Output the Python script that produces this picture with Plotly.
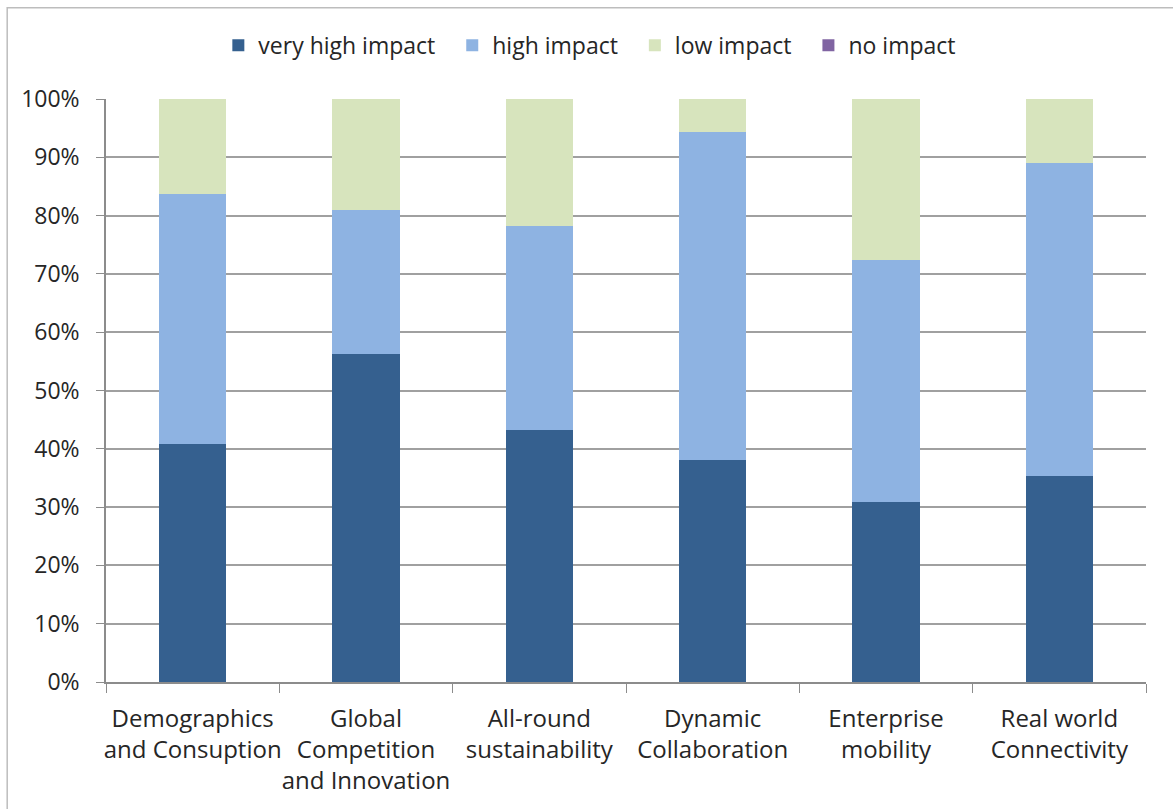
import plotly.graph_objects as go

categories = ["Demographics<br>and Consuption", "Global<br>Competition<br>and Innovation",
              "All-round<br>sustainability", "Dynamic<br>Collaboration",
              "Enterprise<br>mobility", "Real world<br>Connectivity"]
very_high = [40.8, 56.2, 43.2, 38.0, 30.8, 35.3]
high = [42.9, 24.8, 35.0, 56.3, 41.5, 53.8]
low = [16.3, 19.0, 21.8, 5.7, 27.7, 10.9]
no_impact = [0, 0, 0, 0, 0, 0]
y_ticks = list(range(0, 101, 10))
y_tick_labels = [f"{v}%" for v in y_ticks]

series = [("very high impact", very_high, "#35608F"),
          ("high impact", high, "#8EB3E2"),
          ("low impact", low, "#D7E4BD"),
          ("no impact", no_impact, "#8064A2")]

FONT = "Open Sans, Calibri, sans-serif"
fig = go.Figure()
for name, vals, col in series:
    fig.add_trace(go.Bar(x=categories, y=vals, name=name + "\u00a0\u00a0", marker_color=col,
                         marker_line_width=0))

fig.update_layout(
    barmode="stack", bargap=0.613,
    width=1173, height=809,
    margin=dict(l=106, r=27, t=99, b=127),
    paper_bgcolor="white", plot_bgcolor="white",
    font=dict(family=FONT, size=23, color="#262626"),
    legend=dict(orientation="h", x=0.471, xanchor="center", y=1.092, yanchor="middle",
                font=dict(size=23), itemwidth=30, traceorder="normal"),
    showlegend=True,
)
fig.update_yaxes(range=[0, 100], tickvals=y_ticks, ticktext=y_tick_labels,
                 showgrid=True, gridcolor="#A0A0A0", gridwidth=1.5,
                 showline=True, linecolor="#8C8C8C", linewidth=1.5,
                 ticks="outside", ticklen=8, tickcolor="#8C8C8C",
                 zeroline=False, ticklabelstandoff=12, tickfont=dict(size=23))
fig.update_xaxes(showline=True, linecolor="#8C8C8C", linewidth=1.5,
                 ticks="outside", ticklen=9, tickcolor="#8C8C8C",
                 tickson="boundaries", tickangle=0, tickfont=dict(size=24),
                 ticklabelstandoff=14)
# outer chart border (top and left visible in the screenshot)
fig.add_shape(type="rect", xref="paper", yref="paper",
              x0=-0.095, x1=1.05, y0=-0.25, y1=1.1565,
              line=dict(color="#BDBDBD", width=1.5), fillcolor="rgba(0,0,0,0)")
fig.write_html("out.html")
